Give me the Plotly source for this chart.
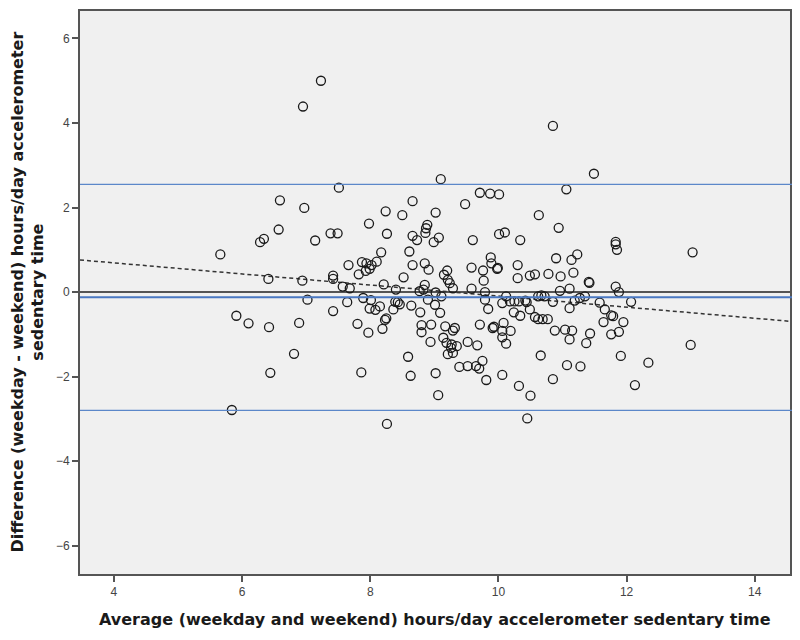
import plotly.graph_objects as go

# Bland-Altman data: average (x) and difference (y), hours/day
avg = [5.66, 5.84, 5.91, 6.10, 6.28, 6.34, 6.41, 6.42, 6.44, 6.57, 6.59, 6.81, 6.89, 6.94, 6.95, 6.97,
       7.02, 7.14, 7.23, 7.38, 7.42, 7.42, 7.42, 7.49, 7.51, 7.57, 7.64, 7.66, 7.68, 7.80, 7.82, 7.86,
       7.87, 7.89, 7.93, 7.94, 7.97, 7.98, 7.99, 7.99, 8.01, 8.02, 8.08, 8.10, 8.15, 8.17, 8.19, 8.21,
       8.23, 8.24, 8.25, 8.26, 8.26, 8.36, 8.39, 8.40, 8.43, 8.46,
       8.50, 8.52, 8.59, 8.61, 8.63, 8.64, 8.66, 8.66, 8.66, 8.73, 8.77, 8.78, 8.80, 8.80, 8.83, 8.85,
       8.85, 8.86, 8.87, 8.89, 8.90, 8.91, 8.94, 8.95, 8.99, 9.01, 9.02, 9.02, 9.02, 9.06, 9.07, 9.09,
       9.10, 9.11, 9.14, 9.15, 9.17, 9.19, 9.20, 9.21, 9.21, 9.24, 9.26, 9.27, 9.29, 9.29, 9.29, 9.32,
       9.35, 9.39, 9.48, 9.52, 9.52, 9.58, 9.58, 9.60, 9.65, 9.67, 9.70, 9.71, 9.71, 9.75, 9.76, 9.77,
       9.79, 9.79, 9.81, 9.84, 9.87, 9.88, 9.89, 9.91, 9.93, 9.98, 9.99, 10.01, 10.01, 10.06, 10.06,
       10.06, 10.06, 10.08, 10.10, 10.12, 10.12, 10.18, 10.19, 10.24, 10.25, 10.30, 10.30, 10.32, 10.32,
       10.34, 10.34, 10.42, 10.44, 10.45, 10.49, 10.49, 10.50, 10.57, 10.57, 10.62, 10.62, 10.63, 10.66,
       10.67, 10.69, 10.72, 10.77, 10.78, 10.85, 10.85, 10.85, 10.88, 10.90, 10.94, 10.96, 10.97, 11.04,
       11.06, 11.07, 11.11, 11.11, 11.11, 11.14, 11.15, 11.17, 11.19, 11.23, 11.27, 11.28, 11.35, 11.37,
       11.41, 11.42, 11.43, 11.49, 11.58, 11.64, 11.66, 11.76, 11.79, 11.76, 11.83, 11.83, 11.85, 11.83,
       11.88, 11.88, 11.91, 11.95, 12.07, 12.13, 12.34, 13.00, 13.03]
diff = [0.89, -2.79, -0.56, -0.74, 1.18, 1.26, 0.31, -0.83, -1.91, 1.48, 2.17, -1.46, -0.73, 0.27, 4.39, 1.99,
        -0.18, 1.22, 5.00, 1.39, 0.39, 0.31, -0.45, 1.39, 2.47, 0.13, -0.24, 0.64, 0.09, -0.75, 0.42, -1.90,
        0.71, -0.14, 0.50, 0.68, -0.96, 1.62, 0.55, -0.39, -0.19, 0.64, -0.42, 0.72, -0.34, 0.94, -0.87, 0.18,
        -0.66, 1.91, -0.62, 1.38, -3.12, -0.41, -0.23, 0.06, -0.24, -0.29,
        1.82, 0.35, -1.53, 0.96, -1.98, -0.32, 2.15, 1.33, 0.64, 1.23, 0.02, -0.48, -0.78, -0.95, 0.06, 0.68,
        0.17, 1.40, 1.51, 1.59, -0.18, 0.53, -1.18, -0.77, 1.18, -0.30, 1.88, -0.01, -1.92, -2.44, 1.29, -0.49,
        2.67, -0.10, -1.08, 0.41, -0.81, -1.20, 0.51, 0.29, -1.47, 0.21, -1.32, -1.24, 0.09, -0.91, -1.44, -0.85,
        -1.28, -1.77, 2.08, -1.18, -1.75, 0.58, 0.08, 1.23, -1.75, -1.26, -1.81, 2.35, -0.77, -1.63, 0.51, 0.27,
        0.00, -0.18, -2.08, -0.40, 2.33, 0.82, 0.68, -0.85, -0.82, 0.55, 0.57, 2.31, 1.37, -0.26, -1.07,
        -0.92, -1.96, -0.73, 1.41, -0.10, -1.22, -0.22, -0.92, -0.48, -0.22, 0.64, 0.33, -0.22, -2.22,
        1.23, -0.56, -0.20, -0.24, -2.99, 0.39, -0.41, -2.45, 0.42, -0.59, -0.64, -0.10, 1.82, -1.50,
        -0.08, -0.64, -0.10, -0.64, 0.43, 3.93, -0.23, -2.06, -0.91, 0.80, 1.52, 0.03, 0.37, -0.89,
        2.43, -1.73, 0.08, -0.38, -1.12, 0.76, -0.91, 0.46, -0.20, 0.89, -0.14, -1.76, -0.10, -1.21,
        0.24, 0.22, -0.98, 2.80, -0.25, -0.71, -0.41, -0.55, -0.57, -1.00, 1.19, 1.13, 1.00, 0.13,
        0.00, -0.94, -1.51, -0.71, -0.23, -2.20, -1.67, -1.25, 0.94]

# Reference lines
mean_diff = [-0.12]
limits = [2.55, -2.80]
reg_intercept = [1.215]
reg_slope = [-0.131]

x_range = [3.47, 14.55]
y_range = [-6.67, 6.65]
x_ticks = [4, 6, 8, 10, 12, 14]
y_ticks = [-6, -4, -2, 0, 2, 4, 6]

fig = go.Figure()

# regression dashed line
reg_x = x_range
reg_y = [reg_intercept[0] + reg_slope[0] * v for v in reg_x]
fig.add_trace(go.Scatter(x=reg_x, y=reg_y, mode="lines",
                         line=dict(color="#333333", width=1.5, dash="4px,3px"),
                         hoverinfo="skip", showlegend=False))

fig.add_trace(go.Scatter(x=avg, y=diff, mode="markers",
                         marker=dict(symbol="circle-open", size=9, color="#1a1a1a",
                                     line=dict(width=1.3, color="#1a1a1a")),
                         showlegend=False))

shapes = []
# zero line
shapes.append(dict(type="line", xref="paper", yref="y", x0=0, x1=1, y0=0, y1=0,
                   line=dict(color="#555555", width=2), layer="below"))
# mean difference
shapes.append(dict(type="line", xref="paper", yref="y", x0=0, x1=1.007, y0=mean_diff[0], y1=mean_diff[0],
                   line=dict(color="#4a78c2", width=2)))
for lv in limits:
    shapes.append(dict(type="line", xref="paper", yref="y", x0=0, x1=1.007, y0=lv, y1=lv,
                       line=dict(color="#5b87c9", width=1.3)))

fig.update_layout(
    width=792, height=632,
    margin=dict(l=72, r=10, t=1, b=66),
    paper_bgcolor="white",
    plot_bgcolor="#f0f0f0",
    shapes=shapes,
    font=dict(family="Liberation Sans, Arial, sans-serif", size=12, color="#444444"),
    xaxis=dict(range=x_range, tickvals=x_ticks, showgrid=False, zeroline=False,
               showline=True, mirror=True, linecolor="#555555", linewidth=2,
               ticks="outside", ticklen=6, tickwidth=1.5, tickcolor="#555555",
               tickfont=dict(size=12, color="#444444")),
    yaxis=dict(range=y_range, tickvals=y_ticks, showgrid=False, zeroline=False,
               showline=True, mirror=True, linecolor="#555555", linewidth=2,
               ticks="outside", ticklen=6, tickwidth=1.5, tickcolor="#555555",
               tickfont=dict(size=12, color="#444444")),
    annotations=[
        dict(text="<b>Average (weekday and weekend) hours/day accelerometer sedentary time</b>",
             xref="paper", yref="paper", x=0.5, y=-0.081, xanchor="center", yanchor="middle",
             showarrow=False, font=dict(family="DejaVu Sans", size=16, color="#1a1a1a")),
        dict(text="<b>Difference (weekday - weekend) hours/day accelerometer<br>sedentary time</b>",
             xref="paper", yref="paper", x=-0.0746, y=0.5, xanchor="center", yanchor="middle",
             textangle=-90, showarrow=False,
             font=dict(family="DejaVu Sans", size=16, color="#1a1a1a")),
    ],
)

fig.write_html("out.html")
